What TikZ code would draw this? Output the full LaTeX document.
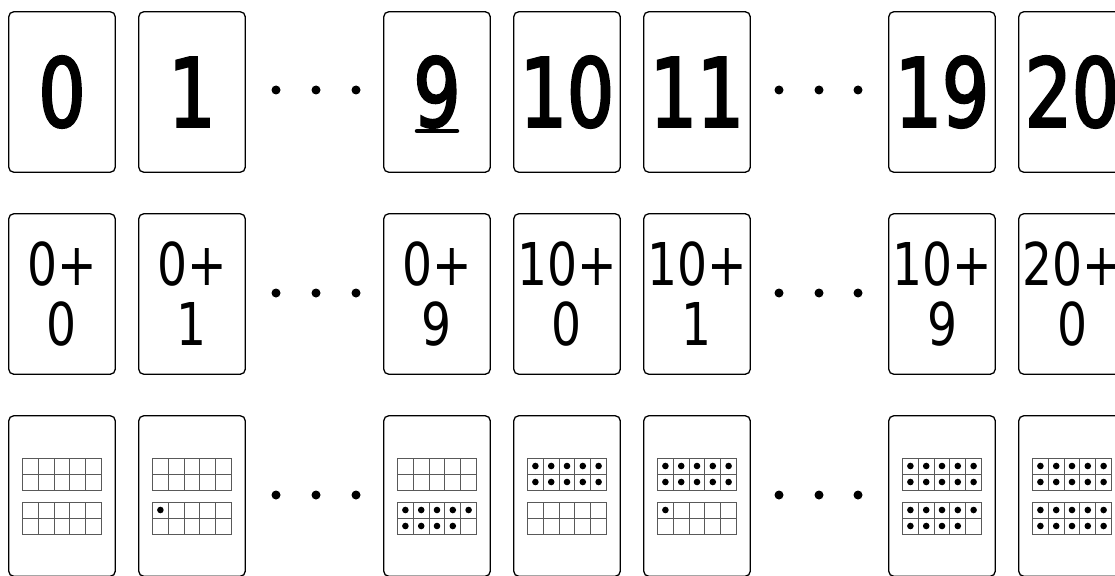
\documentclass[tikz,border=0pt]{standalone}
\usepackage{fontspec}
\newfontfamily\cardfont[FakeStretch=0.8]{DejaVu Sans}
\newfontfamily\heavyfont[FakeStretch=0.78, FakeBold=2.5]{DejaVu Sans}
\usetikzlibrary{positioning}

\tikzset{
  pics/tenframe/.style={code={
    % counters first, grid on top
    \foreach \k in {1,...,10}{
      \pgfmathtruncatemacro\col{mod(\k-1,5)}
      \pgfmathtruncatemacro\row{(\k-1)/5}
      \ifnum\k>#1\relax\else
        \fill (-31.6+15.8*\col,-8+16*\row) circle[radius=3.3];
      \fi
    }
    \draw[cell] (-39.5,-16) rectangle (39.5,16);
    \draw[cell] (-39.5,0) -- (39.5,0);
    \foreach \c in {1,...,4} \draw[cell] (-39.5+15.8*\c,-16) -- ++(0,32);
  }},
}

\begin{document}
\begin{tikzpicture}[x=1pt, y=-1pt,
  card/.style={draw, line width=1.3pt, rounded corners=5pt, minimum width=106.5pt, minimum height=160.5pt, inner sep=0pt},
  bignum/.style={font={\heavyfont\fontsize{95}{95}\selectfont}},
  sumnum/.style={font={\cardfont\fontsize{59}{60}\selectfont}, align=center},
  ell/.style={circle, fill, inner sep=0pt, minimum size=9pt},
  uline/.style={line width=4.5pt, line cap=round},
  cell/.style={draw=black!65, line width=1pt},
]
\useasboundingbox (0,0) rectangle (1115,575);

% Numerals
\node[card, bignum] (n0) at (62,92) {0};
\node[card, bignum] (n1) at (192,92) {1};
\node[card, bignum] (n9) at (437,92) {9};
\node[card, bignum] (n10) at (567,92) {10};
\node[card, bignum] (n11) at (697,92) {11};
\node[card, bignum] (n19) at (942,92) {19};
\node[card, bignum] (n20) at (1072,92) {20};
\draw[uline] ([xshift=-20pt,yshift=-39pt]n9.center) -- ([xshift=20pt,yshift=-39pt]n9.center);

% Tens and ones
\node[card, sumnum] (s0) at (62,294) {0+\\0};
\node[card, sumnum] (s1) at (192,294) {0+\\1};
\node[card, sumnum] (s9) at (437,294) {0+\\9};
\node[card, sumnum] (s10) at (567,294) {10+\\0};
\node[card, sumnum] (s11) at (697,294) {10+\\1};
\node[card, sumnum] (s19) at (942,294) {10+\\9};
\node[card, sumnum] (s20) at (1072,294) {20+\\0};

% Ten frames
\foreach \x/\up/\lo/\nm in {62/0/0/0, 192/0/1/1, 437/0/9/9, 567/10/0/10, 697/10/1/11, 942/10/9/19, 1072/10/10/20} {
  \node[card] (f\nm) at (\x,496) {};
  \pic at ([yshift=22pt]f\nm.center) {tenframe=\up};
  \pic at ([yshift=-22pt]f\nm.center) {tenframe=\lo};
}

% Ellipses
\foreach \y/\r in {90/a, 293/b, 495/c}
  \foreach \x [count=\i] in {276,316,356,779,819,858}
    \node[ell] (dot\r\i) at (\x,\y) {};
\end{tikzpicture}
\end{document}
